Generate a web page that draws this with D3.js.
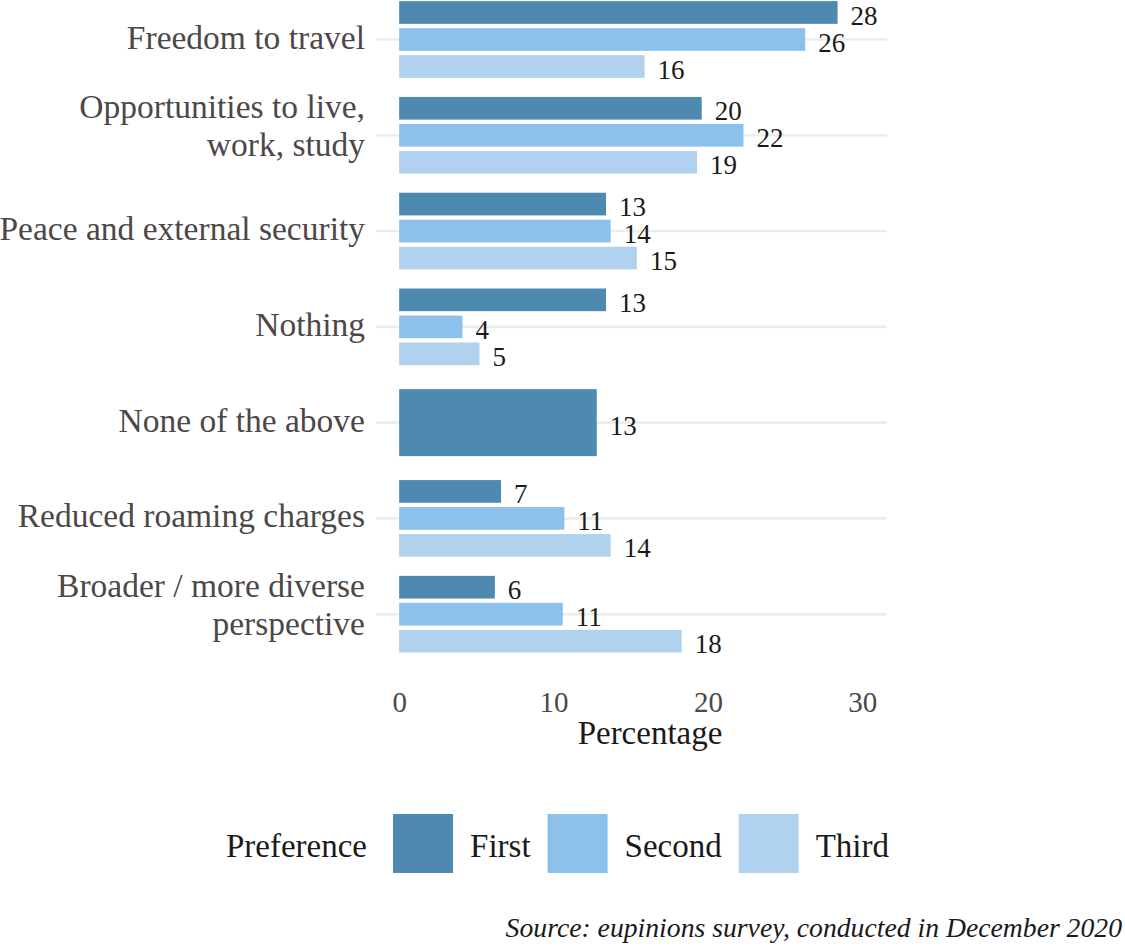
<!DOCTYPE html>
<html>
<head>
<meta charset="utf-8">
<script src="https://cdn.jsdelivr.net/npm/d3@7"></script>
<style>
  html, body { margin: 0; padding: 0; background: #ffffff; }
  svg { display: block; }
</style>
</head>
<body>
<svg id="chart" width="1125" height="952"></svg>
<script>
// ---- data ----
const categories = [
  "Freedom to travel",
  "Opportunities to live, work, study",
  "Peace and external security",
  "Nothing",
  "None of the above",
  "Reduced roaming charges",
  "Broader / more diverse perspective"
];
const categoryLines = [
  ["Freedom to travel"],
  ["Opportunities to live,", "work, study"],
  ["Peace and external security"],
  ["Nothing"],
  ["None of the above"],
  ["Reduced roaming charges"],
  ["Broader / more diverse", "perspective"]
];
const series = ["First", "Second", "Third"];
const firstValues  = [28.4, 19.6, 13.4, 13.4, 12.8, 6.6, 6.2];
const secondValues = [26.3, 22.3, 13.7, 4.1, null, 10.7, 10.6];
const thirdValues  = [15.9, 19.3, 15.4, 5.2, null, 13.7, 18.3];
const xTicks = [0, 10, 20, 30];
const legendTitle = "Preference";
const xTitle = "Percentage";
const caption = "Source: eupinions survey, conducted in December 2020";

const colors = { First: "#4E89B0", Second: "#8BC1EA", Third: "#B0D2EE" };
const valuesBySeries = { First: firstValues, Second: secondValues, Third: thirdValues };

// ---- layout ----
const FONT = "'Liberation Serif', 'DejaVu Serif', serif";
const svg = d3.select("#chart");

const x = d3.scaleLinear().domain([-1.5, 31.6]).range([376, 887]);
const y = d3.scalePoint().domain(categories).range([39.5, 614.2]);
const inner = d3.scaleBand().domain(series).range([-40.5, 40.5])
  .paddingInner(0.16).paddingOuter(0.08);
const singleHeight = 67;

// gridlines
svg.append("g").selectAll("line").data(categories).join("line")
  .attr("x1", x.range()[0]).attr("x2", x.range()[1])
  .attr("y1", d => y(d)).attr("y2", d => y(d))
  .attr("stroke", "#EEECEC").attr("stroke-width", 2.6);

// build bar records
const bars = [];
categories.forEach((c, i) => {
  const present = series.filter(s => valuesBySeries[s][i] != null);
  present.forEach(s => {
    const v = valuesBySeries[s][i];
    let top, h;
    if (present.length === 1) {
      top = y(c) - singleHeight / 2; h = singleHeight;
    } else {
      top = y(c) + inner(s); h = inner.bandwidth();
    }
    bars.push({ c, s, v, top, h });
  });
});

svg.append("g").selectAll("rect").data(bars).join("rect")
  .attr("x", x(0))
  .attr("y", d => d.top)
  .attr("width", d => x(d.v) - x(0))
  .attr("height", d => d.h)
  .attr("fill", d => colors[d.s]);

// value labels
svg.append("g").selectAll("text").data(bars).join("text")
  .attr("x", d => x(d.v) + 13)
  .attr("y", d => d.top + d.h / 2 + 12)
  .attr("font-family", FONT)
  .attr("font-size", 27)
  .attr("fill", "#1a1a1a")
  .text(d => Math.round(d.v));

// y axis labels
const yl = svg.append("g");
categories.forEach((c, i) => {
  const lines = categoryLines[i];
  const offsets = lines.length === 1 ? [9] : [-17.5, 20.5];
  lines.forEach((ln, j) => {
    yl.append("text")
      .attr("x", 365)
      .attr("y", y(c) + offsets[j])
      .attr("text-anchor", "end")
      .attr("font-family", FONT)
      .attr("font-size", 33.5)
      .attr("fill", "#4d4747")
      .text(ln);
  });
});

// x axis tick labels
const xAxis = d3.axisBottom(x).tickValues(xTicks).tickSize(0).tickPadding(0);
const gx = svg.append("g").attr("transform", "translate(0,690)").call(xAxis);
gx.select(".domain").remove();
gx.selectAll("text")
  .attr("dy", null)
  .attr("y", 21.7)
  .attr("font-family", FONT)
  .attr("font-size", 29)
  .attr("fill", "#4d4747");

// x title
svg.append("text")
  .attr("x", 650).attr("y", 744)
  .attr("text-anchor", "middle")
  .attr("font-family", FONT).attr("font-size", 33)
  .attr("fill", "#1a1a1a")
  .text(xTitle);

// legend
const lg = svg.append("g");
const lgTitle = lg.append("text")
  .attr("x", 0).attr("y", 857)
  .attr("font-family", FONT).attr("font-size", 33)
  .attr("fill", "#1a1a1a")
  .text(legendTitle);
let cursor = lgTitle.node().getComputedTextLength() + 26;
series.forEach(s => {
  lg.append("rect")
    .attr("x", cursor).attr("y", 814)
    .attr("width", 60).attr("height", 59)
    .attr("fill", colors[s]);
  cursor += 60 + 17;
  const t = lg.append("text")
    .attr("x", cursor).attr("y", 857)
    .attr("font-family", FONT).attr("font-size", 33)
    .attr("fill", "#1a1a1a")
    .text(s);
  cursor += t.node().getComputedTextLength() + 17;
});
const legendWidth = cursor - 17;
lg.attr("transform", `translate(${557.5 - legendWidth / 2},0)`);

// caption
svg.append("text")
  .attr("x", 1122).attr("y", 937)
  .attr("text-anchor", "end")
  .attr("font-family", FONT).attr("font-size", 27.7)
  .attr("font-style", "italic")
  .attr("fill", "#1a1a1a")
  .text(caption);
</script>
</body>
</html>
